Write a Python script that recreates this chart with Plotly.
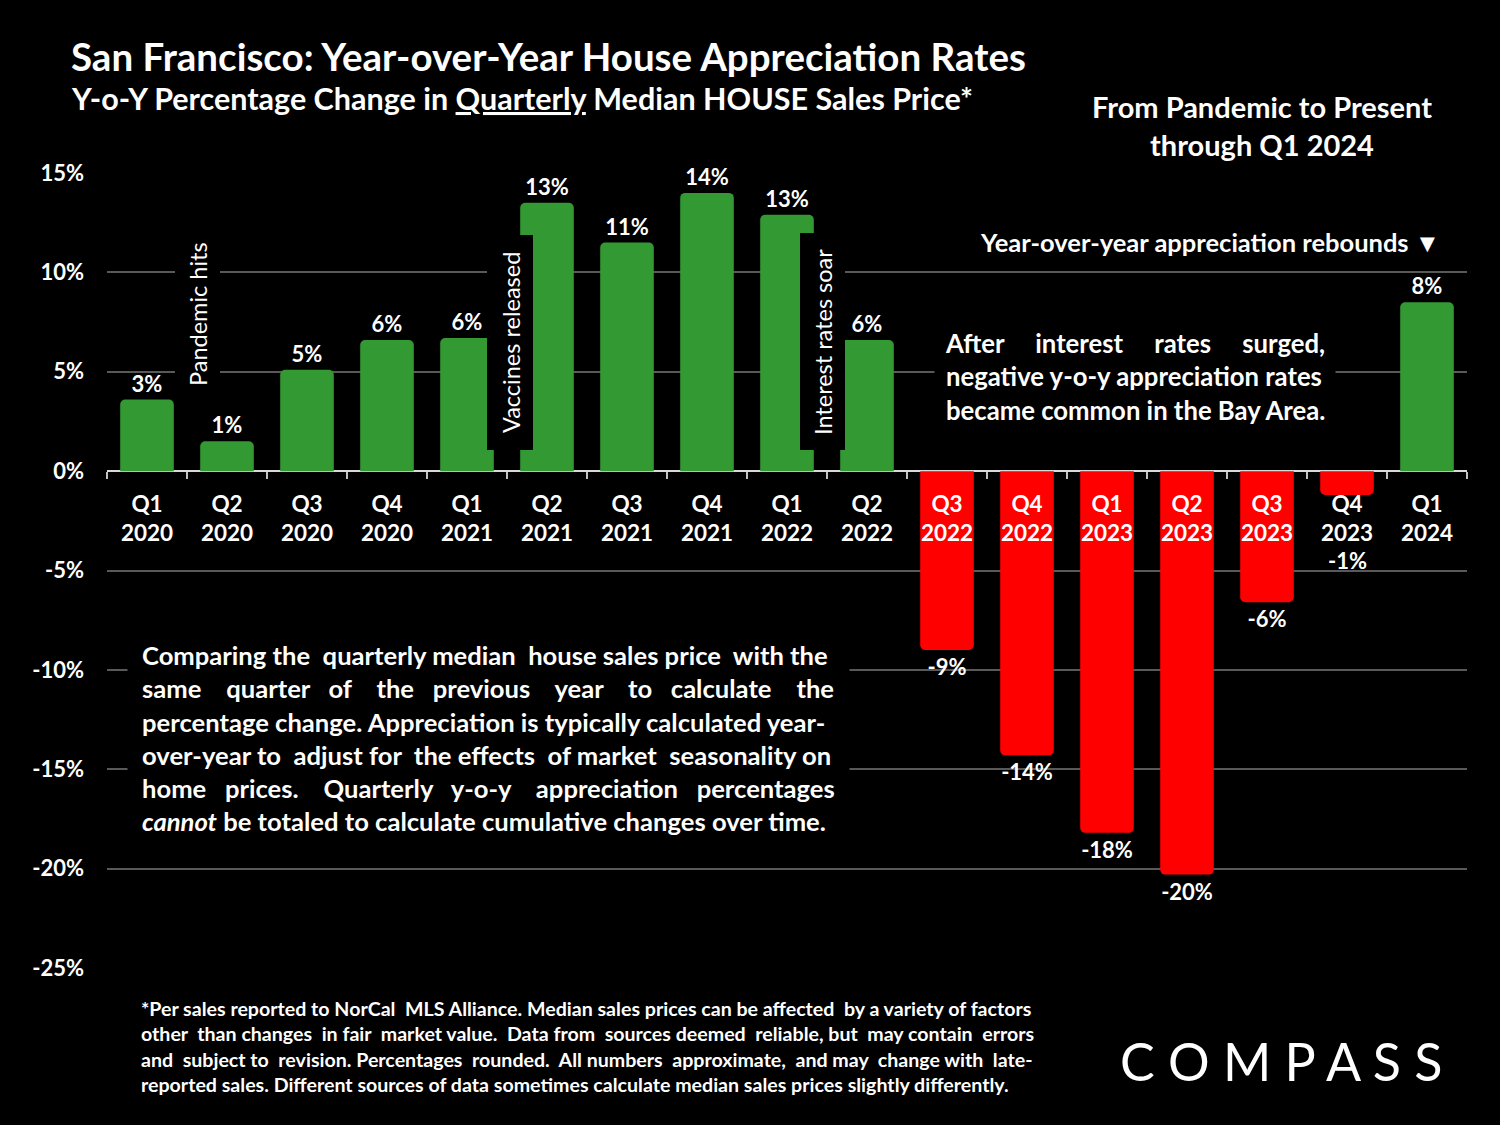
import plotly.graph_objects as go

# ---------------- data ----------------
quarters = ["Q1 2020", "Q2 2020", "Q3 2020", "Q4 2020",
            "Q1 2021", "Q2 2021", "Q3 2021", "Q4 2021",
            "Q1 2022", "Q2 2022", "Q3 2022", "Q4 2022",
            "Q1 2023", "Q2 2023", "Q3 2023", "Q4 2023",
            "Q1 2024"]
yoy_change = [3.6, 1.5, 5.1, 6.6,
              6.7, 13.5, 11.5, 14.0,
              12.9, 6.6, -9.0, -14.3,
              -18.2, -20.3, -6.6, -1.2,
              8.5]
bar_labels = ["3%", "1%", "5%", "6%",
              "6%", "13%", "11%", "14%",
              "13%", "6%", "-9%", "-14%",
              "-18%", "-20%", "-6%", "-1%",
              "8%"]
y_ticks = [15, 10, 5, 0, -5, -10, -15, -20, -25]
y_tick_labels = ["15%", "10%", "5%", "0%", "-5%", "-10%", "-15%", "-20%", "-25%"]
x_tick_labels = [q.replace(" ", "<br>") for q in quarters]

GREEN = "#339933"
RED = "#FF0000"
FONT = "Lato"
W, H = 1500, 1125
L, R, T, B = 107, 1467, 173, 968   # plot area in pixels


def px_x(x):
    return (x - L) / (R - L)


def px_y(y):
    return (B - y) / (B - T)


def spread(line, extra):
    """Approximate text justification by adding non-breaking spaces evenly."""
    words = line.split(" ")
    gaps = len(words) - 1
    out = words[0]
    for i, w in enumerate(words[1:]):
        n = round((i + 1) * extra / gaps) - round(i * extra / gaps)
        out += " " + "\u00a0" * n + w
    return out


colors = [GREEN if v >= 0 else RED for v in yoy_change]
special = "Q4 2023"  # label placed below the category text
texts = ["" if q == special else lab for q, lab in zip(quarters, bar_labels)]

fig = go.Figure()
fig.add_trace(go.Bar(
    x=quarters, y=yoy_change,
    marker=dict(color=colors, line=dict(width=0), cornerradius=5),
    width=0.67,
    text=texts, textposition="outside",
    textfont=dict(family=FONT, size=22, color="white", weight="bold"),
    constraintext="none", cliponaxis=False,
    hoverinfo="skip",
))

annotations = []


def note(text, x, y, size, xanchor="left", yanchor="middle", align="left",
         weight="bold", color="white", **kw):
    annotations.append(dict(
        text=text, xref="paper", yref="paper", x=px_x(x), y=px_y(y),
        xanchor=xanchor, yanchor=yanchor, align=align, showarrow=False,
        font=dict(family=FONT, size=size, color=color, weight=weight), **kw))


# Title & subtitle
note("San Francisco: Year-over-Year House Appreciation Rates", 69, 56, 38.5)
note("Y-o-Y Percentage Change in <u>Quarterly</u> Median HOUSE Sales Price*", 69, 98, 30.5)
note("From Pandemic to Present<br>through Q1 2024", 1262, 125, 29,
     xanchor="center", align="center")
note("Year-over-year appreciation rebounds ▼", 1442, 242, 25.5, xanchor="right")

right_lines = [
    spread("After interest rates surged,", 12),
    "negative y-o-y appreciation rates",
    "became common in the Bay Area.",
]
note("<br>".join(right_lines), 934, 376, 25.7, bgcolor="black", borderpad=10)

left_lines = [
    spread("Comparing the quarterly median house sales price with the", 3),
    spread("same quarter of the previous year to calculate the", 21),
    "percentage change. Appreciation is typically calculated year-",
    spread("over-year to adjust for the effects of market seasonality on", 4),
    spread("home prices. Quarterly y-o-y appreciation percentages", 12),
    "<i>cannot</i> be totaled to calculate cumulative changes over time.",
]
note("<br>".join(left_lines), 127, 738, 25.6, bgcolor="black", borderpad=14)

foot_lines = [
    spread("*Per sales reported to NorCal MLS Alliance. Median sales prices can be affected by a variety of factors", 2),
    spread("other than changes in fair market value. Data from sources deemed reliable, but may contain errors", 8),
    spread("and subject to revision. Percentages rounded. All numbers approximate, and may change with late-", 8),
    "reported sales. Different sources of data sometimes calculate median sales prices slightly differently.",
]
note("<br>".join(foot_lines), 139, 1046, 19.6)

note("C O M P A S S", 1281, 1061, 52, xanchor="center", weight="normal")

# Event markers (rotated)
note("Pandemic hits", 198, 314, 23.5, xanchor="center", weight="normal", textangle=-90)
note("Vaccines released", 511, 343, 23.5, xanchor="center", weight="normal", textangle=-90)
note("Interest rates soar", 823, 342, 23.5, xanchor="center", weight="normal", textangle=-90)

# -1% label under the Q4 2023 category text
annotations.append(dict(
    text=bar_labels[quarters.index(special)], x=special, y=yoy_change[quarters.index(special)],
    xref="x", yref="y", yanchor="top", yshift=-50, showarrow=False,
    font=dict(family=FONT, size=22, color="white", weight="bold")))

# black boxes behind rotated event labels
shapes = []
for x0, y0, x1, y1 in [(175, 224, 220, 406), (487, 235, 533, 450), (800, 233, 845, 450)]:
    shapes.append(dict(type="rect", xref="paper", yref="paper",
                       x0=px_x(x0), x1=px_x(x1), y0=px_y(y1), y1=px_y(y0),
                       fillcolor="black", line=dict(width=0), layer="above"))

fig.update_layout(
    width=W, height=H,
    margin=dict(l=L, r=W - R, t=T, b=H - B, pad=0),
    paper_bgcolor="black", plot_bgcolor="black",
    showlegend=False, bargap=0.33,
    annotations=annotations, shapes=shapes,
    font=dict(family=FONT, color="white"),
    xaxis=dict(
        type="category", anchor="free", position=25 / 40,
        tickvals=quarters, ticktext=x_tick_labels,
        showgrid=False, showline=False, zeroline=False,
        ticks="outside", tickson="boundaries", ticklen=7, tickwidth=1.5,
        tickcolor="#bfbfbf",
        tickfont=dict(family=FONT, size=22.5, color="white", weight="bold"),
        ticklabelstandoff=17,
        range=[-0.5, len(quarters) - 0.5],
    ),
    yaxis=dict(
        range=[-25, 15], tickvals=y_ticks, ticktext=y_tick_labels,
        showgrid=True, gridcolor="#595959", gridwidth=1.5,
        zeroline=True, zerolinecolor="#d9d9d9", zerolinewidth=2,
        showline=False, ticks="", layer="below traces",
        tickfont=dict(family=FONT, size=22, color="white", weight="bold"),
        ticklabelstandoff=22,
    ),
)

fig.write_html(
    "out.html",
    config={"displayModeBar": False},
    post_script="document.body.style.margin='0';document.body.style.backgroundColor='black';",
)
